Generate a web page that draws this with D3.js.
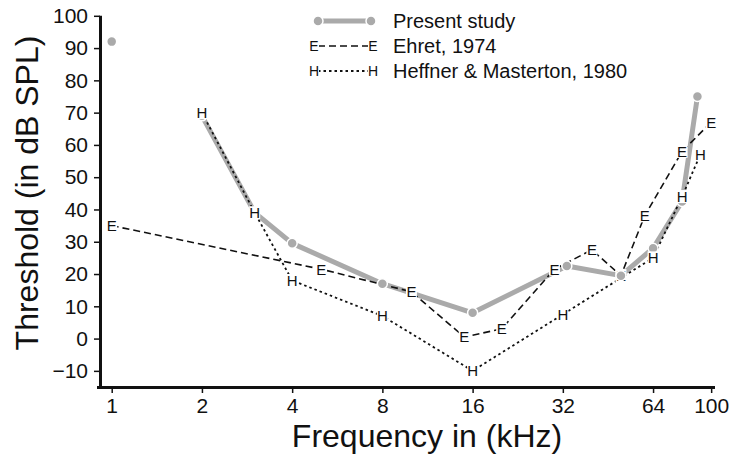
<!DOCTYPE html>
<html>
<head>
<meta charset="utf-8">
<script src="https://cdn.jsdelivr.net/npm/d3@7"></script>
<style>
  body { margin: 0; background: #fff; }
  svg { display: block; font-family: "Liberation Sans", Arial, Helvetica, sans-serif; }
</style>
</head>
<body>
<svg width="732" height="457"></svg>
<script>
let svg = d3.select("svg");

// the data
const presentFreq = [1, 2, 3, 4, 8, 16, 33, 50, 64, 80, 90];
const presentThr = [92, 69, 39, 29.5, 17, 8, 22.5, 19.5, 28, 42.5, 75];
const ehretFreq = [1, 5, 10, 15, 20, 30, 40, 50, 60, 80, 100];
const ehretThr = [35, 21.5, 14.5, 0.5, 3, 21.5, 27.5, 19.5, 38, 58, 67];
const heffnerFreq = [2, 3, 4, 8, 16, 32, 64, 80, 92];
const heffnerThr = [70, 39, 18, 7, -10, 7.5, 25, 44, 57];

const xTicks = [1, 2, 4, 8, 16, 32, 64, 100];
const yTicks = [-10, 0, 10, 20, 30, 40, 50, 60, 70, 80, 90, 100];
const legendLabels = ["Present study", "Ehret, 1974", "Heffner & Masterton, 1980"];

const GRAY = "#aaaaaa";
const DASH = "7,4";
const DOT = "2.5,3";

// the 1 kHz point of the present study is not joined to the rest
const firstLinked = 2;

const zip = (fs, ts) => fs.map((f, i) => ({ f: f, t: ts[i] }));
const present = zip(presentFreq, presentThr);
const ehret = zip(ehretFreq, ehretThr);
const heffner = zip(heffnerFreq, heffnerThr);

//////////// SCALES & AXES ////////////

const x = d3.scaleLog().domain([0.914, 103]).range([100, 715]);
const y = d3.scaleLinear().domain([-15, 100]).range([387, 15.8]);

const xAxis = svg.append("g")
  .attr("transform", "translate(0,387)")
  .call(d3.axisBottom(x).tickValues(xTicks).tickFormat(d3.format("d")).tickSize(6).tickPadding(5));

const yAxis = svg.append("g")
  .attr("transform", "translate(100,0)")
  .call(d3.axisLeft(y).tickValues(yTicks).tickSize(6).tickPadding(6));

[xAxis, yAxis].forEach((ax) => {
  ax.select(".domain").attr("stroke-width", 3).attr("stroke", "#111");
  ax.selectAll(".tick line").attr("stroke-width", 1.5).attr("stroke", "#111");
  ax.selectAll(".tick text")
    .attr("font-size", 21)
    .attr("fill", "#111")
    .attr("font-family", "'Liberation Sans', Arial, sans-serif");
});
// plain axis lines, no outer end caps
xAxis.select(".domain").attr("d", "M97,0.5H715");
yAxis.select(".domain").attr("d", "M0.5,388.5V" + y(100));

svg.append("text")
  .attr("x", 427)
  .attr("y", 447)
  .attr("text-anchor", "middle")
  .attr("font-size", 32)
  .attr("fill", "#111")
  .text("Frequency in (kHz)");

svg.append("text")
  .attr("transform", "translate(38,193) rotate(-90)")
  .attr("text-anchor", "middle")
  .attr("font-size", 32)
  .attr("fill", "#111")
  .text("Threshold (in dB SPL)");

//////////// SERIES ////////////

const line = d3.line().x((d) => x(d.f)).y((d) => y(d.t));

svg.append("path")
  .datum(present.filter((d) => d.f >= firstLinked))
  .attr("d", line)
  .attr("fill", "none")
  .attr("stroke", GRAY)
  .attr("stroke-width", 5)
  .attr("stroke-linejoin", "round");

svg.append("path")
  .datum(ehret)
  .attr("d", line)
  .attr("fill", "none")
  .attr("stroke", "#111")
  .attr("stroke-width", 1.6)
  .attr("stroke-dasharray", DASH);

svg.append("path")
  .datum(heffner)
  .attr("d", line)
  .attr("fill", "none")
  .attr("stroke", "#111")
  .attr("stroke-width", 1.8)
  .attr("stroke-dasharray", DOT);

// letter markers sit in a small white box that knocks the lines out
function letterMarks(data, letter) {
  const g = svg.append("g")
    .selectAll("g")
    .data(data)
    .enter()
    .append("g")
    .attr("transform", (d) => `translate(${x(d.f)},${y(d.t)})`);
  g.append("rect")
    .attr("x", -5.5)
    .attr("y", -6.5)
    .attr("width", 11)
    .attr("height", 13)
    .attr("fill", "#fff");
  g.append("text")
    .attr("text-anchor", "middle")
    .attr("dy", 5.5)
    .attr("font-size", 15)
    .attr("fill", "#111")
    .text(letter);
}

letterMarks(ehret, "E");

svg.append("g")
  .selectAll("circle")
  .data(present)
  .enter()
  .append("circle")
  .attr("cx", (d) => x(d.f))
  .attr("cy", (d) => y(d.t))
  .attr("r", 5)
  .attr("fill", GRAY)
  .attr("stroke", "#fff")
  .attr("stroke-width", 1.5);

letterMarks(heffner, "H");

//////////// LEGEND ////////////

const legend = svg.append("g").attr("transform", "translate(0,0)");
const rowY = [21, 46, 71];
const symL = 318, symR = 371;

legend.append("line")
  .attr("x1", symL).attr("x2", symR)
  .attr("y1", rowY[0]).attr("y2", rowY[0])
  .attr("stroke", GRAY)
  .attr("stroke-width", 5);
legend.selectAll("circle.leg")
  .data([symL, symR])
  .enter()
  .append("circle")
  .attr("class", "leg")
  .attr("cx", (d) => d)
  .attr("cy", rowY[0])
  .attr("r", 5)
  .attr("fill", GRAY)
  .attr("stroke", "#fff")
  .attr("stroke-width", 1.5);

[["E", DASH, 1.6], ["H", DOT, 1.8]].forEach(([letter, dash, w], i) => {
  const yy = rowY[i + 1];
  legend.append("line")
    .attr("x1", symL).attr("x2", symR)
    .attr("y1", yy).attr("y2", yy)
    .attr("stroke", "#111")
    .attr("stroke-width", w)
    .attr("stroke-dasharray", dash);
  [symL - 4, symR + 2].forEach((cx) => {
    legend.append("rect")
      .attr("x", cx - 5).attr("y", yy - 6)
      .attr("width", 10).attr("height", 12)
      .attr("fill", "#fff");
    legend.append("text")
      .attr("x", cx)
      .attr("y", yy + 5)
      .attr("text-anchor", "middle")
      .attr("font-size", 14)
      .attr("fill", "#111")
      .text(letter);
  });
});

legend.selectAll("text.lab")
  .data(legendLabels)
  .enter()
  .append("text")
  .attr("class", "lab")
  .attr("x", 393)
  .attr("y", (d, i) => rowY[i] + 7)
  .attr("font-size", 20)
  .attr("fill", "#111")
  .text((d) => d);
</script>
</body>
</html>
